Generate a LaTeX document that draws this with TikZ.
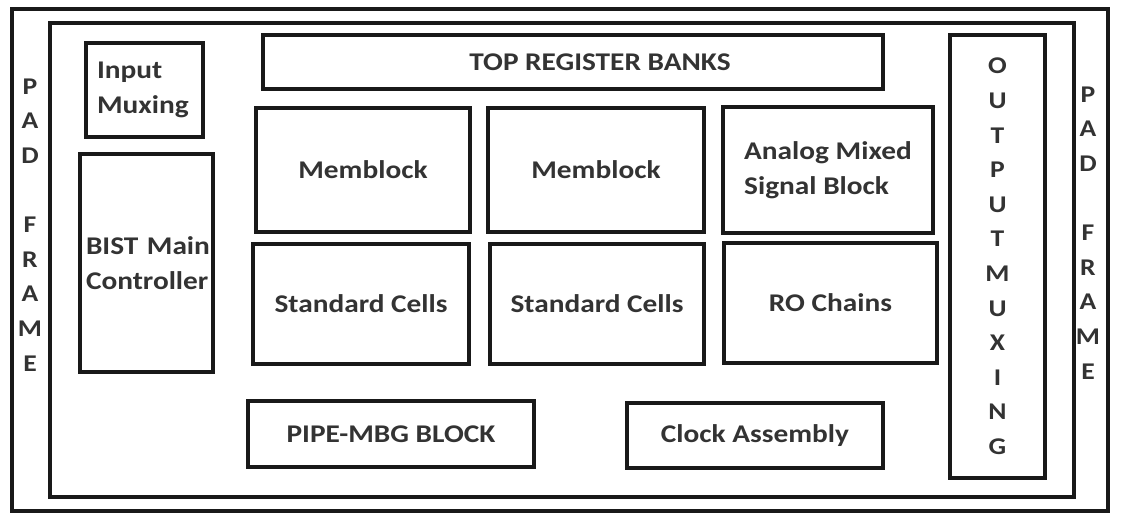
\documentclass[tikz,border=0pt]{standalone}
\usepackage{fontspec}
\setmainfont{Carlito}[FakeStretch=1.15]
\begin{document}
\begin{tikzpicture}[x=1pt,y=-1pt,
  frame/.style={draw=black!90,line width=3.4pt},
  blk/.style={draw=black!90,line width=3.2pt,rectangle,inner sep=0pt,
    text=black!80,font=\bfseries\fontsize{25.5}{35}\selectfont},
  letters/.style={text=black!80,align=center,inner sep=0pt,
    font=\bfseries\fontsize{24}{34.6}\selectfont}]
  \useasboundingbox[fill=white] (0,0) rectangle (1121,524);

  % pad ring and core boundary
  \node[frame,rectangle,minimum width=1096pt,minimum height=502pt] (padring) at (560,260) {};
  \node[frame,rectangle,minimum width=1024pt,minimum height=474pt] (core) at (562,260) {};

  % pad frame labels on both sides
  \node[letters] (padl) at (30,225) {P\\A\\D\\~\\F\\R\\A\\M\\E};
  \node[letters] (padr) at (1088,233) {P\\A\\D\\~\\F\\R\\A\\M\\E};

  % left column
  \node[blk,minimum width=117pt,minimum height=94pt,inner xsep=11pt,
    text width=95pt,align=left] (inmux) at (144.5,90) {Input\\Muxing};
  \node[blk,minimum width=133pt,minimum height=218pt,inner xsep=6pt,
    text width=121pt,align=left] (bist) at (146.5,263) {\mbox{BIST Main}\\\mbox{Controller}};

  % register banks across the top
  \node[blk,minimum width=620pt,minimum height=54pt,
    label={[blk,draw=none,xshift=27pt]center:TOP REGISTER BANKS}] (topreg) at (573,62) {};

  % main array
  \node[blk,minimum width=214pt,minimum height=124pt] (mem1) at (363,170) {Memblock};
  \node[blk,minimum width=216pt,minimum height=124pt] (mem2) at (596,170) {Memblock};
  \node[blk,minimum width=210pt,minimum height=126pt,align=left] (ams) at (828,170) {Analog Mixed\\Signal Block};
  \node[blk,minimum width=216pt,minimum height=120pt] (std1) at (361,304) {Standard Cells};
  \node[blk,minimum width=214pt,minimum height=120pt] (std2) at (597,304) {Standard Cells};
  \node[blk,minimum width=213pt,minimum height=120pt] (ro) at (830.5,303) {RO Chains};

  % bottom row
  \node[blk,minimum width=286pt,minimum height=66pt] (pipe) at (391,434) {PIPE-MBG BLOCK};
  \node[blk,minimum width=256pt,minimum height=65pt] (clk) at (755,435.5) {Clock Assembly};

  % output muxing column
  \node[blk,minimum width=95pt,minimum height=443pt] (outmux) at (997.5,256.5) {};
  \node[letters] (outtxt) at (outmux.center) {O\\U\\T\\P\\U\\T\\M\\U\\X\\I\\N\\G};
\end{tikzpicture}
\end{document}
